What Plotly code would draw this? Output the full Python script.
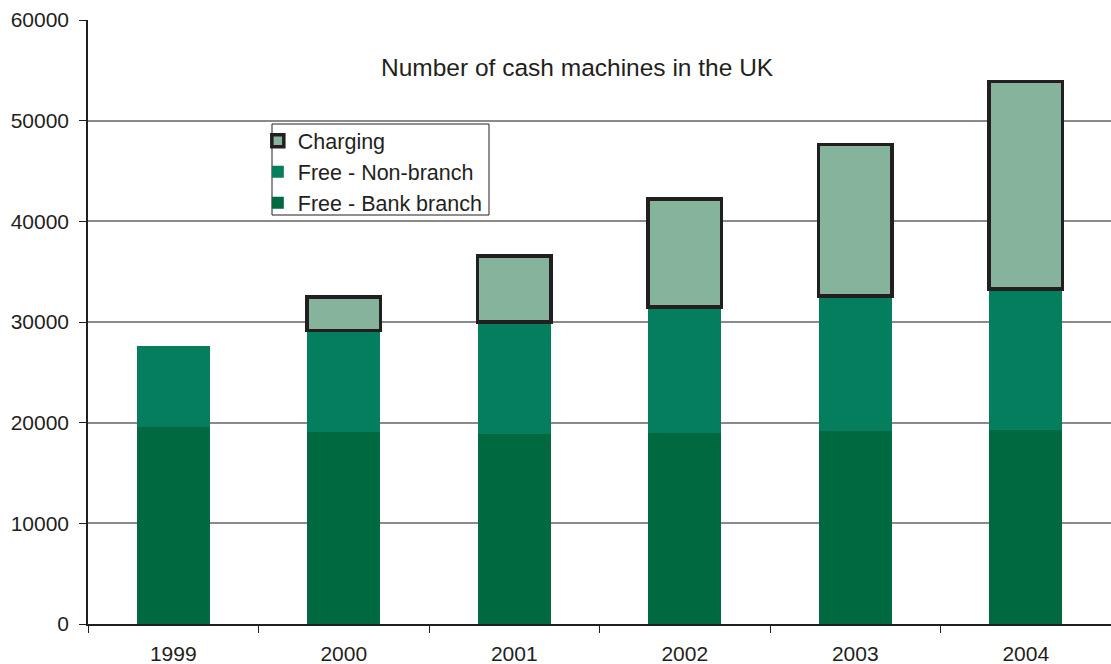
import plotly.graph_objects as go

# Cash machines in the UK by type, 1999-2004
years = ["1999", "2000", "2001", "2002", "2003", "2004"]
bank_branch = [19550, 19050, 18900, 19000, 19150, 19300]
non_branch = [8100, 10100, 11100, 12500, 13450, 14000]
charging = [None, 3350, 6550, 10700, 15050, 20600]

y_ticks = [0, 10000, 20000, 30000, 40000, 50000, 60000]
y_tick_text = [str(v) for v in y_ticks]

FONT = "Liberation Sans, Arial, sans-serif"
INK = "#231F20"

fig = go.Figure()
fig.add_trace(go.Bar(
    x=years, y=bank_branch, name="Free - Bank branch",
    marker=dict(color="#006940", line=dict(width=0)),
))
fig.add_trace(go.Bar(
    x=years, y=non_branch, name="Free - Non-branch",
    marker=dict(color="#057E5E", line=dict(width=0)),
))
fig.add_trace(go.Bar(
    x=years, y=charging, name="Charging",
    marker=dict(color="#85B39C", line=dict(color=INK, width=3.5)),
))

fig.update_layout(
    width=1111, height=664,
    margin=dict(l=88, r=0, t=20, b=40),
    paper_bgcolor="white", plot_bgcolor="white",
    barmode="stack", bargap=0.57,
    font=dict(family=FONT, size=21, color=INK),
    showlegend=True,
    legend=dict(
        x=0.166, y=0.834, xanchor="left", yanchor="top",
        traceorder="reversed",
        borderwidth=0, bgcolor="rgba(0,0,0,0)",
        font=dict(size=21.5, color=INK),
        itemwidth=30, tracegroupgap=0,
    ),
    shapes=[dict(
        type="rect", xref="paper", yref="paper",
        x0=(272 - 88) / 1023, x1=(489 - 88) / 1023,
        y0=(624 - 215) / 604, y1=(624 - 124) / 604,
        line=dict(color=INK, width=1), fillcolor="rgba(0,0,0,0)",
        layer="above",
    )],
    annotations=[dict(
        text="Number of cash machines in the UK",
        x=(577 - 88) / 1023, y=(624 - 68) / 604, xref="paper", yref="paper",
        xanchor="center", yanchor="middle", showarrow=False,
        font=dict(size=24.5, color=INK, family=FONT),
    )],
)

fig.update_xaxes(
    type="category", showline=True, linecolor=INK, linewidth=1.5,
    ticks="outside", tickson="boundaries", ticklen=7, tickcolor=INK,
    tickwidth=1, showgrid=False, ticklabelstandoff=10, automargin=False,
    tickfont=dict(size=21, color=INK),
)
fig.update_yaxes(
    range=[0, 60000], tickvals=y_ticks, ticktext=y_tick_text,
    showline=True, linecolor=INK, automargin=False,
    linewidth=1.5, ticks="outside", ticklen=7, tickcolor=INK, tickwidth=1,
    showgrid=True, gridcolor="#8a8a8a", gridwidth=1.5, zeroline=False,
    tickfont=dict(size=21, color=INK), ticklabelstandoff=6,
)

fig.write_html("out.html")
